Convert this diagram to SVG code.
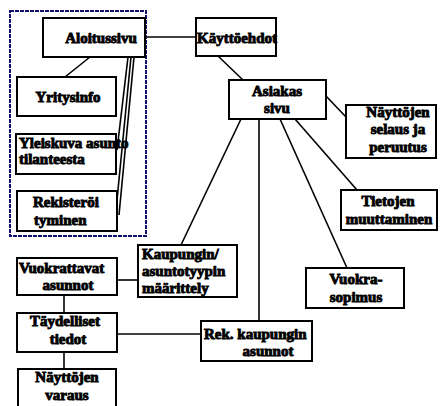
<svg xmlns="http://www.w3.org/2000/svg" width="440" height="406" viewBox="0 0 440 406">
<style>
.b{fill:#fff;stroke:#000;stroke-width:2}
.c{fill:none;stroke:#000;stroke-width:1.6}
.t text{font-weight:bold;font-size:15px;fill:#000;stroke:#000;stroke-width:0.9}
.m{text-anchor:middle}
</style>
<rect x="0" y="0" width="440" height="406" fill="#fff"/>
<rect x="10" y="11" width="136" height="225" fill="none" stroke="#10106e" stroke-width="2" stroke-dasharray="4,1"/>
<g id="connectors">
<line class="c" x1="145" y1="37" x2="196" y2="37"/>
<line class="c" x1="218" y1="56" x2="243" y2="80"/>
<line class="c" x1="90" y1="57" x2="65" y2="77"/>
<line class="c" x1="128" y1="57" x2="117" y2="150"/>
<line class="c" x1="131" y1="57" x2="117" y2="200"/>
<line class="c" x1="134" y1="57" x2="119" y2="215"/>
<line class="c" x1="326" y1="96" x2="346" y2="117"/>
<line class="c" x1="295" y1="119" x2="357" y2="190"/>
<line class="c" x1="280" y1="119" x2="347" y2="268"/>
<line class="c" x1="259" y1="119" x2="259" y2="321"/>
<line class="c" x1="241" y1="119" x2="181" y2="245"/>
<line class="c" x1="117" y1="280" x2="138" y2="280"/>
<line class="c" x1="64" y1="295" x2="64" y2="313"/>
<line class="c" x1="117" y1="334" x2="201" y2="334"/>
<line class="c" x1="64" y1="352" x2="64" y2="369"/>
</g>
<g class="t" font-family="Liberation Serif, DejaVu Serif, serif">
<g id="aloitussivu"><rect class="b" x="43" y="18" width="102" height="39"/><text class="m" x="101" y="43">Aloitussivu</text></g>
<g id="kayttoehdot"><rect class="b" x="196" y="18" width="80" height="38"/><text class="m" x="237" y="43">Käyttöehdot</text></g>
<g id="asiakas"><rect class="b" x="229" y="80" width="97" height="39"/><text class="m" x="277" y="96">Asiakas</text><text class="m" x="277" y="113">sivu</text></g>
<g id="yritysinfo"><rect class="b" x="17" y="77" width="99" height="39"/><text class="m" x="68" y="102">Yritysinfo</text></g>
<g id="yleiskuva"><rect class="b" x="16" y="134" width="100" height="40"/><text x="19" y="148">Yleiskuva asunto</text><text x="19" y="164">tilanteesta</text></g>
<g id="rekisteroityminen"><rect class="b" x="17" y="191" width="100" height="40"/><text x="33" y="207">Rekisteröi</text><text x="34" y="225">tyminen</text></g>
<g id="nayttojen-selaus"><rect class="b" x="346" y="105" width="90" height="53"/><text class="m" x="398" y="117">Näyttöjen</text><text class="m" x="398" y="134">selaus ja</text><text class="m" x="398" y="152">peruutus</text></g>
<g id="tietojen"><rect class="b" x="341" y="190" width="96" height="40"/><text class="m" x="388" y="206">Tietojen</text><text class="m" x="389" y="224">muuttaminen</text></g>
<g id="vuokrasopimus"><rect class="b" x="306" y="268" width="98" height="40"/><text class="m" x="356" y="284">Vuokra-</text><text class="m" x="356" y="302">sopimus</text></g>
<g id="rek-kaupungin"><rect class="b" x="201" y="321" width="111" height="40"/><text x="204" y="339">Rek. kaupungin</text><text class="m" x="268" y="356">asunnot</text></g>
<g id="kaupungin"><rect class="b" x="138" y="245" width="99" height="52"/><text x="142" y="259">Kaupungin/</text><text x="142" y="276">asuntotyypin</text><text x="142" y="293">määrittely</text></g>
<g id="vuokrattavat"><rect class="b" x="17" y="258" width="100" height="37"/><text x="19" y="273">Vuokrattavat</text><text class="m" x="68" y="290">asunnot</text></g>
<g id="taydelliset"><rect class="b" x="17" y="313" width="100" height="39"/><text x="30" y="326">Täydelliset</text><text class="m" x="68" y="344">tiedot</text></g>
<g id="nayttojen-varaus"><rect class="b" x="18" y="369" width="98" height="40"/><text class="m" x="67" y="382">Näyttöjen</text><text class="m" x="67" y="400">varaus</text></g>
</g>
</svg>
